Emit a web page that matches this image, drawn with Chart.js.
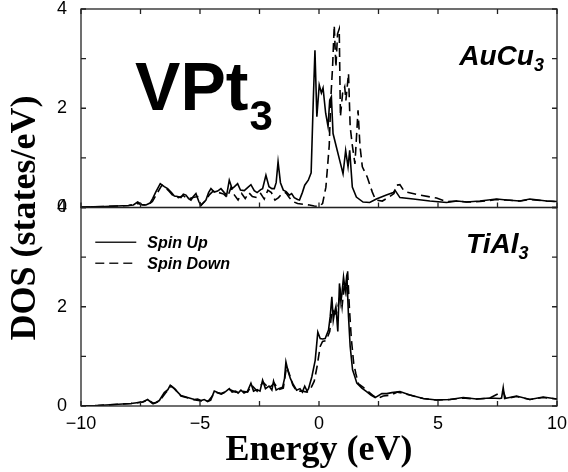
<!DOCTYPE html>
<html>
<head>
<meta charset="utf-8">
<script src="https://cdn.jsdelivr.net/npm/chart.js@4.4.1/dist/chart.umd.min.js"></script>
<style>
  html, body { margin: 0; padding: 0; background: #fff; }
</style>
</head>
<body>
<canvas id="dos" width="568" height="472"></canvas>
<script>
// VPt3 in the AuCu3 structure (top panel)
const energyAuCuUp = [-10, -9, -8.5, -8, -7.8, -7.62, -7.45, -7.27, -7.1, -6.99, -6.85, -6.67, -6.5, -6.36, -6.2, -6.08, -5.94, -5.8, -5.7, -5.59, -5.48, -5.38, -5.28, -5.17, -5.05, -4.96, -4.85, -4.75, -4.64, -4.54, -4.4, -4.26, -4.12, -3.98, -3.88, -3.77, -3.65, -3.55, -3.42, -3.3, -3.14, -3.0, -2.86, -2.72, -2.6, -2.45, -2.37, -2.23, -2.1, -1.98, -1.88, -1.8, -1.72, -1.62, -1.5, -1.38, -1.25, -1.15, -1.04, -0.9, -0.82, -0.7, -0.6, -0.45, -0.33, -0.24, -0.17, -0.09, 0.01, 0.1, 0.17, 0.28, 0.38, 0.45, 0.52, 0.59, 0.73, 0.87, 1.01, 1.12, 1.22, 1.29, 1.4, 1.57, 1.85, 2.13, 2.41, 2.83, 3.12, 3.19, 3.4, 3.96, 4.66, 5.36, 5.8, 6.2, 6.76, 7.46, 7.88, 8.44, 8.86, 9.56, 10];
const dosAuCuUp = [0.01, 0.02, 0.03, 0.04, 0.05, 0.11, 0.06, 0.05, 0.09, 0.18, 0.32, 0.48, 0.42, 0.38, 0.3, 0.23, 0.22, 0.2, 0.27, 0.25, 0.18, 0.15, 0.22, 0.28, 0.12, 0.04, 0.1, 0.15, 0.3, 0.38, 0.31, 0.33, 0.38, 0.3, 0.25, 0.55, 0.38, 0.42, 0.48, 0.35, 0.34, 0.4, 0.46, 0.34, 0.3, 0.36, 0.38, 0.65, 0.42, 0.38, 0.38, 0.5, 0.92, 0.5, 0.35, 0.32, 0.25, 0.28, 0.2, 0.16, 0.15, 0.3, 0.45, 0.55, 0.7, 2.16, 3.17, 1.83, 2.47, 2.31, 2.41, 1.9, 1.63, 2.16, 2.23, 1.49, 1.22, 0.95, 0.68, 1.15, 0.82, 1.15, 0.41, 0.21, 0.11, 0.1, 0.17, 0.25, 0.3, 0.35, 0.2, 0.17, 0.13, 0.1, 0.13, 0.11, 0.13, 0.17, 0.15, 0.13, 0.17, 0.13, 0.12];

const energyAuCuDown = [-10, -9, -8, -7.62, -7.4, -7.2, -7.0, -6.85, -6.6, -6.45, -6.3, -6.1, -5.9, -5.7, -5.5, -5.3, -5.1, -4.96, -4.8, -4.6, -4.45, -4.2, -4.0, -3.85, -3.7, -3.55, -3.4, -3.25, -3.1, -2.95, -2.8, -2.6, -2.45, -2.3, -2.15, -2.0, -1.85, -1.7, -1.55, -1.4, -1.25, -1.1, -0.9, -0.6, -0.4, -0.2, 0.0, 0.15, 0.29, 0.43, 0.5, 0.57, 0.64, 0.71, 0.78, 0.85, 0.9, 0.99, 1.08, 1.13, 1.24, 1.31, 1.4, 1.51, 1.64, 1.72, 1.82, 2.03, 2.24, 2.38, 2.66, 2.94, 3.15, 3.26, 3.4, 3.55, 3.68, 4.24, 4.94, 5.36, 5.8, 6.2, 6.76, 7.46, 7.88, 8.44, 8.86, 9.56, 10];
const dosAuCuDown = [0.01, 0.02, 0.04, 0.08, 0.05, 0.05, 0.12, 0.25, 0.45, 0.4, 0.33, 0.22, 0.2, 0.24, 0.17, 0.2, 0.22, 0.05, 0.12, 0.26, 0.33, 0.3, 0.27, 0.2, 0.4, 0.25, 0.15, 0.28, 0.18, 0.3, 0.22, 0.2, 0.28, 0.17, 0.35, 0.3, 0.15, 0.2, 0.28, 0.3, 0.2, 0.12, 0.08, 0.06, 0.05, 0.03, 0.02, 0.08, 0.41, 1.25, 2.23, 2.83, 3.67, 2.83, 3.5, 3.6, 1.83, 2.3, 2.43, 2.16, 2.7, 1.63, 1.25, 0.88, 1.96, 1.25, 0.82, 0.61, 0.31, 0.15, 0.13, 0.21, 0.28, 0.45, 0.46, 0.35, 0.31, 0.25, 0.19, 0.12, 0.13, 0.11, 0.12, 0.16, 0.15, 0.13, 0.16, 0.13, 0.12];

// VPt3 in the TiAl3 structure (bottom panel)
const energyTiAlUp = [-10, -9.3, -8.6, -7.9, -7.41, -7.2, -6.99, -6.85, -6.71, -6.5, -6.35, -6.25, -6.08, -5.94, -5.8, -5.52, -5.24, -5.1, -4.96, -4.82, -4.68, -4.55, -4.4, -4.26, -4.12, -3.95, -3.77, -3.65, -3.5, -3.4, -3.28, -3.15, -3.0, -2.86, -2.75, -2.6, -2.48, -2.37, -2.25, -2.1, -1.98, -1.91, -1.8, -1.7, -1.53, -1.45, -1.39, -1.3, -1.2, -1.1, -0.94, -0.8, -0.7, -0.6, -0.5, -0.44, -0.3, -0.16, -0.05, 0.05, 0.15, 0.26, 0.4, 0.47, 0.54, 0.6, 0.66, 0.71, 0.79, 0.86, 0.92, 0.96, 1.03, 1.1, 1.17, 1.24, 1.31, 1.41, 1.5, 1.59, 1.8, 2.0, 2.18, 2.36, 2.64, 2.85, 3.06, 3.4, 3.82, 4.38, 4.94, 5.5, 6.06, 6.62, 7.18, 7.6, 7.67, 7.74, 7.8, 8.3, 8.86, 9.42, 10];
const dosTiAlUp = [0.0, 0.01, 0.03, 0.05, 0.08, 0.13, 0.05, 0.07, 0.11, 0.27, 0.33, 0.42, 0.35, 0.28, 0.21, 0.17, 0.13, 0.14, 0.11, 0.13, 0.09, 0.12, 0.3, 0.27, 0.25, 0.28, 0.35, 0.28, 0.3, 0.26, 0.32, 0.26, 0.3, 0.46, 0.3, 0.33, 0.3, 0.52, 0.35, 0.4, 0.32, 0.5, 0.32, 0.35, 0.38, 0.55, 0.89, 0.7, 0.55, 0.45, 0.32, 0.35, 0.28, 0.4, 0.3, 0.35, 0.59, 0.92, 1.49, 1.36, 1.35, 1.36, 1.53, 1.8, 2.2, 1.73, 1.9, 2.0, 1.5, 2.47, 2.1, 2.25, 2.6, 2.33, 2.65, 1.8, 1.2, 0.73, 0.6, 0.46, 0.36, 0.29, 0.22, 0.17, 0.25, 0.25, 0.27, 0.29, 0.22, 0.15, 0.12, 0.13, 0.17, 0.14, 0.16, 0.15, 0.16, 0.37, 0.15, 0.2, 0.13, 0.18, 0.14];

const energyTiAlDown = [-10, -9.3, -8.6, -7.9, -7.41, -7.15, -6.95, -6.7, -6.45, -6.2, -6.05, -5.8, -5.5, -5.2, -4.9, -4.65, -4.35, -4.1, -3.75, -3.5, -3.25, -3.0, -2.83, -2.6, -2.35, -2.1, -1.88, -1.7, -1.5, -1.36, -1.25, -1.1, -0.94, -0.7, -0.5, -0.35, -0.2, -0.08, 0.05, 0.15, 0.3, 0.45, 0.55, 0.62, 0.72, 0.8, 0.9, 0.97, 1.06, 1.13, 1.2, 1.28, 1.36, 1.46, 1.55, 1.65, 1.85, 2.05, 2.25, 2.45, 2.7, 3.0, 3.3, 3.82, 4.38, 4.94, 5.5, 6.06, 6.62, 7.18, 7.74, 7.85, 8.3, 8.86, 9.42, 10];
const dosTiAlDown = [0.0, 0.01, 0.03, 0.05, 0.08, 0.12, 0.05, 0.1, 0.26, 0.4, 0.34, 0.2, 0.16, 0.12, 0.1, 0.1, 0.28, 0.24, 0.33, 0.28, 0.3, 0.28, 0.42, 0.3, 0.48, 0.36, 0.46, 0.33, 0.36, 0.8, 0.65, 0.42, 0.3, 0.3, 0.28, 0.35, 0.5, 0.8, 1.2, 1.3, 1.32, 1.5, 1.95, 1.9, 1.85, 2.0, 2.3, 2.0, 2.45, 2.3, 2.75, 1.95, 1.35, 0.85, 0.65, 0.45, 0.38, 0.3, 0.22, 0.15, 0.2, 0.22, 0.28, 0.22, 0.15, 0.12, 0.13, 0.16, 0.14, 0.16, 0.3, 0.15, 0.19, 0.13, 0.17, 0.14];

const xLabelValues = [-10, -5, 0, 5, 10];
const yLabelValues = [0, 2, 4];
const seriesNames = ['Spin Up', 'Spin Down'];

function pairs(xs, ys) {
  return xs.map((x, i) => ({x: x, y: ys[i]}));
}

const tickFont = {family: 'Liberation Sans, Arial, sans-serif', size: 18, lineHeight: 1};

// frame, inward ticks, titles and labels
const decorPlugin = {
  id: 'decor',
  afterDatasetsDraw(chart) {
    const ctx = chart.ctx;
    const xs = chart.scales.x;
    const top = chart.scales.yTop, bot = chart.scales.yBot;
    ctx.save();
    ctx.strokeStyle = '#222';
    ctx.lineWidth = 1.3;
    [top, bot].forEach(ys => {
      ctx.strokeRect(xs.left, ys.top, xs.right - xs.left, ys.bottom - ys.top);
      ctx.beginPath();
      xs.ticks.forEach(t => {
        const px = xs.getPixelForValue(t.value);
        ctx.moveTo(px, ys.bottom); ctx.lineTo(px, ys.bottom - 5);
        if (ys === top) { ctx.moveTo(px, ys.top); ctx.lineTo(px, ys.top + 5); }
      });
      ys.ticks.forEach(t => {
        const py = ys.getPixelForValue(t.value);
        ctx.moveTo(xs.left, py); ctx.lineTo(xs.left + 5, py);
        ctx.moveTo(xs.right, py); ctx.lineTo(xs.right - 5, py);
      });
      ctx.stroke();
    });

    ctx.fillStyle = '#000';
    // axis titles
    ctx.font = 'bold 36px "Liberation Serif", "Times New Roman", serif';
    ctx.textAlign = 'center';
    ctx.textBaseline = 'middle';
    ctx.fillText('Energy (eV)', (xs.left + xs.right) / 2, 451);
    ctx.save();
    ctx.translate(26, 218);
    ctx.rotate(-Math.PI / 2);
    ctx.fillText('DOS (states/eV)', 0, 0);
    ctx.restore();

    // big compound label
    ctx.textAlign = 'left';
    ctx.textBaseline = 'alphabetic';
    ctx.font = 'bold 68px "Liberation Sans", Arial, sans-serif';
    let px = xs.getPixelForValue(-7.73), py = top.getPixelForValue(1.96);
    ctx.fillText('VPt', px, py);
    let w = ctx.measureText('VPt').width;
    ctx.font = 'bold 42px "Liberation Sans", Arial, sans-serif';
    ctx.fillText('3', px + w + 1, py + 20);

    // structure labels
    function structLabel(txt, ys, xv, yv) {
      ctx.font = 'italic bold 28px "Liberation Sans", Arial, sans-serif';
      const tw = ctx.measureText(txt).width;
      ctx.font = 'italic bold 18px "Liberation Sans", Arial, sans-serif';
      const sw = ctx.measureText('3').width;
      const right = xs.getPixelForValue(xv), base = ys.getPixelForValue(yv);
      ctx.font = 'italic bold 28px "Liberation Sans", Arial, sans-serif';
      ctx.fillText(txt, right - sw - tw, base);
      ctx.font = 'italic bold 18px "Liberation Sans", Arial, sans-serif';
      ctx.fillText('3', right - sw, base + 6);
    }
    structLabel('AuCu', top, 9.45, 2.87);
    structLabel('TiAl', bot, 8.8, 3.08);

    // legend
    ctx.font = 'italic bold 16px "Liberation Sans", Arial, sans-serif';
    ctx.textBaseline = 'middle';
    const lx = xs.getPixelForValue(-9.4);
    [0, 1].forEach(i => {
      const ly = bot.getPixelForValue(3.3) + i * 21;
      ctx.beginPath();
      ctx.lineWidth = 1.5;
      ctx.setLineDash(i === 0 ? [] : [9, 5]);
      ctx.moveTo(lx, ly); ctx.lineTo(lx + 41, ly);
      ctx.stroke();
      ctx.setLineDash([]);
      ctx.fillText(seriesNames[i], lx + 52, ly + 1);
    });
    ctx.restore();
  }
};

function lineSet(label, xs, ys, axis, dashed) {
  return {
    label: label,
    data: pairs(xs, ys),
    yAxisID: axis,
    borderColor: '#000',
    borderWidth: 1.6,
    borderDash: dashed ? [9, 5] : [],
    pointRadius: 0,
    tension: 0,
    fill: false
  };
}

function fitY(s) {
  s.width = 81;
  s.paddingTop = 0;
  s.paddingBottom = 0;
}

new Chart(document.getElementById('dos').getContext('2d'), {
  type: 'line',
  data: {
    datasets: [
      lineSet(seriesNames[1], energyAuCuDown, dosAuCuDown, 'yTop', true),
      lineSet(seriesNames[0], energyAuCuUp, dosAuCuUp, 'yTop', false),
      lineSet(seriesNames[1], energyTiAlDown, dosTiAlDown, 'yBot', true),
      lineSet(seriesNames[0], energyTiAlUp, dosTiAlUp, 'yBot', false)
    ]
  },
  options: {
    responsive: false,
    animation: false,
    layout: {padding: {left: 0, right: 11, top: 9, bottom: 0}},
    plugins: {legend: {display: false}, tooltip: {enabled: false}},
    scales: {
      x: {
        type: 'linear',
        min: -10, max: 10,
        grid: {display: false},
        border: {display: false},
        ticks: {
          stepSize: 2.5,
          maxRotation: 0,
          autoSkip: false,
          padding: 1,
          color: '#000',
          font: tickFont,
          callback: v => xLabelValues.includes(v) ? (v < 0 ? '\u2212' + Math.abs(v) : String(v)) : ''
        },
        afterFit: s => { s.height = 66; s.paddingLeft = 0; s.paddingRight = 0; }
      },
      yBot: {
        type: 'linear',
        position: 'left',
        stack: 'dos',
        stackWeight: 1,
        min: 0, max: 4,
        grid: {display: false},
        border: {display: false},
        ticks: {
          stepSize: 1, padding: 6, color: '#000', font: tickFont,
          callback: v => yLabelValues.includes(v) ? String(v) : ''
        },
        afterFit: fitY
      },
      yTop: {
        type: 'linear',
        position: 'left',
        stack: 'dos',
        stackWeight: 1,
        min: 0, max: 4,
        grid: {display: false},
        border: {display: false},
        ticks: {
          stepSize: 1, padding: 6, color: '#000', font: tickFont,
          callback: v => yLabelValues.includes(v) ? String(v) : ''
        },
        afterFit: fitY
      }
    }
  },
  plugins: [decorPlugin]
});
</script>
</body>
</html>
